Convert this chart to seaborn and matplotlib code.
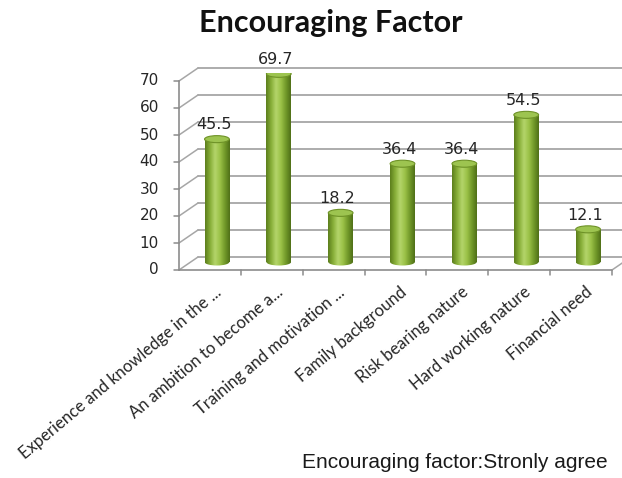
import numpy as np
import pandas as pd
import matplotlib
matplotlib.use("Agg")
import matplotlib.pyplot as plt
import seaborn as sns
from matplotlib.patches import Ellipse
from matplotlib.lines import Line2D
from matplotlib.colors import LinearSegmentedColormap

# ---- data -----------------------------------------------------------------
categories = [
    "Experience and knowledge in the ...",
    "An ambition to become a...",
    "Training and motivation ...",
    "Family background",
    "Risk bearing nature",
    "Hard working nature",
    "Financial need",
]
percent = [45.5, 69.7, 18.2, 36.4, 36.4, 54.5, 12.1]
y_ticks = [0, 10, 20, 30, 40, 50, 60, 70]
title = "Encouraging Factor"
caption = "Encouraging factor:Stronly agree"

# ---- figure ---------------------------------------------------------------
W, H = 622, 478
sns.set_theme(style="white")
plt.rcParams["font.family"] = ["DejaVu Sans"]
fig = plt.figure(figsize=(W / 100, H / 100), dpi=100)
fig.patch.set_facecolor("white")

# axes = the middle depth plane where the cylinders stand
Y0_PX = 262          # pixel row of value 0
PX_PER_UNIT = 2.7
YMIN = -2.5
ax_bottom = Y0_PX - YMIN * PX_PER_UNIT
ax_height = (70 - YMIN) * PX_PER_UNIT
ax = fig.add_axes([186 / W, (H - ax_bottom) / H, 433 / W, ax_height / H])
df = pd.DataFrame({"factor": categories, "percent": percent})
sns.barplot(data=df, x="factor", y="percent", color="#8db43f",
            width=0.4, saturation=1, ax=ax, zorder=3, linewidth=0)
ax.set_xlim(-0.5, 6.5)
ax.set_ylim(YMIN, 70)
ax.axis("off")

# offsets (pixels) of the front and back planes relative to the bar plane
FRONT = (-7, 8)
BACK = (12, -5)


def to_fig(x, y, off):
    X, Y = ax.transData.transform((x, y))
    return (X + off[0]) / W, (Y - off[1]) / H


grid_col = "#a6a6a6"
axis_col = "#8c8c8c"


def seg(p, q, color, lw):
    fig.add_artist(Line2D([p[0], q[0]], [p[1], q[1]], color=color, lw=lw,
                          transform=fig.transFigure, zorder=-1))


# back wall gridlines + diagonals to the front axis
for v in y_ticks:
    b0 = to_fig(-0.5, v, BACK)
    b1 = to_fig(6.5, v, BACK)
    seg(b0, (b1[0] + 20 / W, b1[1]), grid_col, 1.3)
    f = to_fig(-0.5, v, FRONT)
    seg(f, b0, grid_col, 1.1)
    seg((f[0] - 5 / W, f[1]), f, axis_col, 1.1)
    fig.text(f[0] - 20 / W, f[1], str(v), ha="right", va="center",
             fontsize=11, color="#262626")

# front vertical axis
a0 = to_fig(-0.5, 0, FRONT)
a1 = to_fig(-0.5, 70, FRONT)
seg(a0, a1, axis_col, 1.2)

# front floor edge with category ticks
fr = to_fig(6.5, 0, FRONT)
seg(a0, fr, axis_col, 1.2)
seg(fr, to_fig(6.5, 0, BACK), grid_col, 1.1)
for k in range(7):
    t = to_fig(k + 0.5, 0, FRONT)
    seg(t, (t[0], t[1] - 5 / H), axis_col, 1.1)

# category labels
for i, lab in enumerate(categories):
    lx, ly = to_fig(i, 0, FRONT)
    fig.text(lx + 9 / W, ly - 20 / H, lab, rotation=40, rotation_mode="anchor",
             ha="right", va="center", fontsize=12, family="Lato", color="#262626")

# ---- cylinders: shaded body, rounded bottom, elliptical cap ---------------
shade = LinearSegmentedColormap.from_list(
    "cyl", ["#5b7d1c", "#86ad37", "#b4d56b", "#9cc248", "#72992a", "#4f6f17"])
grad = np.linspace(0, 1, 128).reshape(1, -1)
eh = 2.6  # ellipse height in data units

for patch, v in zip(ax.patches, percent):
    x0 = patch.get_x()
    w = patch.get_width()
    xc = x0 + w / 2
    body = ax.imshow(grad, cmap=shade, extent=[x0, x0 + w, 0, v],
                     aspect="auto", zorder=4, interpolation="bicubic")
    body.set_clip_path(patch)
    bottom = Ellipse((xc, 0), w, eh, fc="none", ec="none")
    ax.add_patch(bottom)
    bimg = ax.imshow(grad, cmap=shade, extent=[x0, x0 + w, -eh, eh],
                     aspect="auto", zorder=4, interpolation="bicubic")
    bimg.set_clip_path(bottom)
    cap = Ellipse((xc, v), w, eh, fc="#9dc450", ec="#6e9227", lw=0.8, zorder=5)
    ax.add_patch(cap)
    ax.text(xc - 0.05, v + 5.3, f"{v}", ha="center", va="center",
            fontsize=11.5, color="#262626", zorder=6)

ax.set_xlim(-0.5, 6.5)
ax.set_ylim(YMIN, 70)

# ---- title and caption ----------------------------------------------------
fig.text(331 / W, 1 - 23 / H, title, ha="center", va="center",
         fontsize=22, fontweight="bold", family="Lato", color="#111111")
fig.text(608 / W, 1 - 463 / H, caption, ha="right", va="center",
         fontsize=15, family="Liberation Sans", color="#1a1a1a")

fig.savefig("out.png", dpi=100)
